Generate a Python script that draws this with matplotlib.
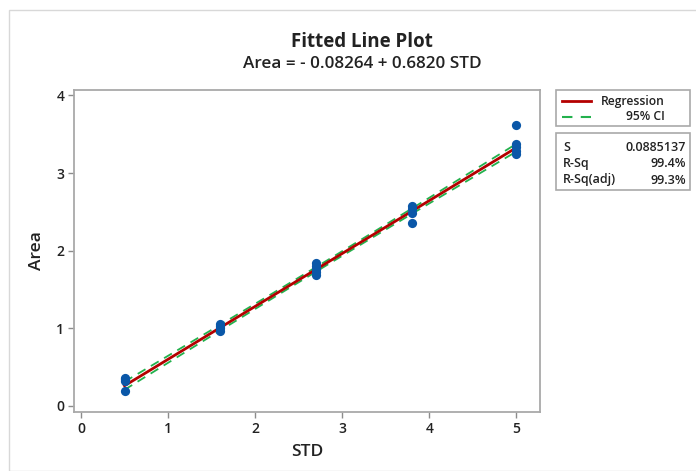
import numpy as np
import matplotlib
matplotlib.use("Agg")
import matplotlib.pyplot as plt
from matplotlib.patches import Rectangle

# ---- data ----
std_x = [0.5, 0.5, 0.5, 0.5,
         1.6, 1.6, 1.6, 1.6,
         2.7, 2.7, 2.7, 2.7, 2.7,
         3.8, 3.8, 3.8, 3.8,
         5.0, 5.0, 5.0, 5.0, 5.0]
area_y = [0.36, 0.34, 0.32, 0.19,
          1.06, 1.03, 1.00, 0.97,
          1.84, 1.80, 1.76, 1.72, 1.69,
          2.57, 2.53, 2.49, 2.35,
          3.62, 3.37, 3.33, 3.28, 3.24]
intercept = -0.08264
slope = 0.6820
s_value = 0.0885137
t_crit = 1.55
stats_labels = ["S", "R-Sq", "R-Sq(adj)"]
stats_values = ["0.0885137", "99.4%", "99.3%"]
xticks = [0, 1, 2, 3, 4, 5]
yticks = [0, 1, 2, 3, 4]

plt.rcParams['font.family'] = ['Open Sans', 'DejaVu Sans']

W, H = 696, 471
fig = plt.figure(figsize=(W / 100, H / 100), dpi=100)
fig.patch.set_facecolor("white")

# outer frame
fig.patches.append(Rectangle((9 / W, 0), 1, 1 - 10 / H, transform=fig.transFigure,
                             fill=False, edgecolor="#d8d8d8", linewidth=1.0))

ax = fig.add_axes([74 / W, 1 - 412 / H, (540 - 74) / W, (412 - 90) / H])
ax.set_xlim(-0.08, 5.27)
ax.set_ylim(-0.08, 4.07)

x = np.array(std_x)
y = np.array(area_y)
n = len(x)
xbar = x.mean()
sxx = ((x - xbar) ** 2).sum()
xs = np.linspace(x.min(), x.max(), 200)
fit = intercept + slope * xs
half = t_crit * s_value * np.sqrt(1 / n + (xs - xbar) ** 2 / sxx)

ax.plot(xs, fit + half, color="#23b14d", lw=1.3, ls=(0, (5, 3.5)), zorder=2)
ax.plot(xs, fit - half, color="#23b14d", lw=1.3, ls=(0, (5, 3.5)), zorder=2)
ax.plot(xs, fit, color="#b40000", lw=2.0, zorder=3)
ax.scatter(x, y, s=44, color="#0a57a8", zorder=4, linewidths=0)

for sp in ax.spines.values():
    sp.set_color("#a9a9a9")
    sp.set_linewidth(1.3)
ax.set_xticks(xticks)
ax.set_yticks(yticks)
ax.tick_params(direction="out", length=4, width=1, color="#8c8c8c",
               labelsize=10, labelcolor="#222222", pad=3)
for lbl in ax.get_xticklabels() + ax.get_yticklabels():
    lbl.set_fontweight("semibold")
ax.set_xlabel("STD", fontsize=12.5, color="#222222", labelpad=6, fontweight="semibold")
ax.set_ylabel("Area", fontsize=12.5, color="#222222", labelpad=8, fontweight="semibold")

fig.text(362 / W, 1 - 42 / H, "Fitted Line Plot", ha="center", va="center",
         fontsize=13.5, fontweight="bold", color="#222222")
fig.text(362 / W, 1 - 64 / H, "Area = - 0.08264 + 0.6820 STD", ha="center", va="center",
         fontsize=12.3, fontweight="semibold", color="#222222")

# legend box
lx0, lx1 = 556, 690
fig.patches.append(Rectangle((lx0 / W, 1 - 126 / H), (lx1 - lx0) / W, 36 / H,
                             transform=fig.transFigure, fill=False,
                             edgecolor="#a9a9a9", linewidth=1.2))
fig.lines.append(plt.Line2D([562 / W, 591 / W], [1 - 101 / H] * 2, transform=fig.transFigure,
                            color="#b40000", lw=2.0))
fig.lines.append(plt.Line2D([562 / W, 591 / W], [1 - 117 / H] * 2, transform=fig.transFigure,
                            color="#23b14d", lw=1.5, ls=(0, (5, 4))))
fig.text(665 / W, 1 - 101 / H, "Regression", ha="right", va="center", fontsize=8.7,
         fontweight="semibold", color="#222222")
fig.text(665 / W, 1 - 117 / H, "95% CI", ha="right", va="center", fontsize=8.7,
         fontweight="semibold", color="#222222")

# stats box
fig.patches.append(Rectangle((lx0 / W, 1 - 190 / H), (lx1 - lx0) / W, 57 / H,
                             transform=fig.transFigure, fill=False,
                             edgecolor="#a9a9a9", linewidth=1.2))
for i, (lab, val) in enumerate(zip(stats_labels, stats_values)):
    yy = 1 - (148 + 16 * i) / H
    fig.text(563 / W, yy, lab, ha="left", va="center", fontsize=9,
             fontweight="semibold", color="#222222")
    fig.text(686 / W, yy, val, ha="right", va="center", fontsize=9,
             fontweight="semibold", color="#222222")

fig.savefig("out.png", dpi=100)
